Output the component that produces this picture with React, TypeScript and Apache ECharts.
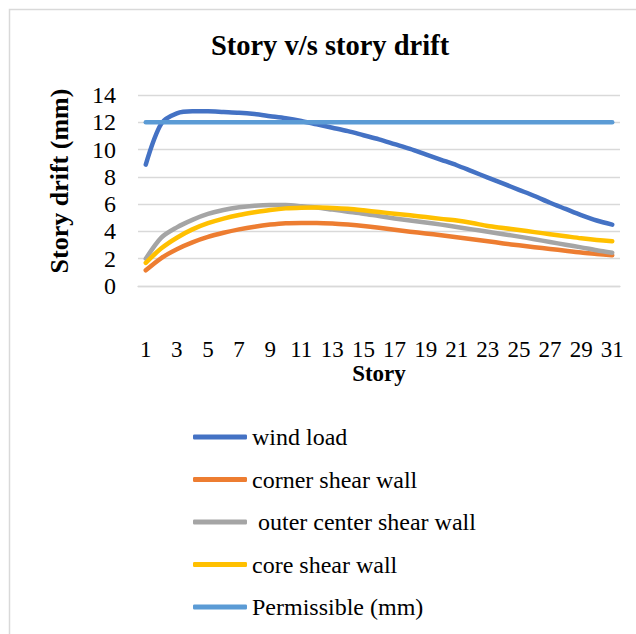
import React, { useEffect, useRef } from "react";
import * as echarts from "echarts";

// Story numbers along the x axis
const stories: string[] = Array.from({ length: 31 }, (_, i) => String(i + 1));

// Story drift (mm) per story, one list per case
const windLoad = [
  8.9, 11.9, 12.65, 12.8, 12.8, 12.75, 12.7, 12.6, 12.45, 12.3, 12.1, 11.85, 11.6, 11.35, 11.05, 10.75,
  10.4, 10.05, 9.65, 9.25, 8.85, 8.4, 7.95, 7.5, 7.05, 6.6, 6.1, 5.65, 5.2, 4.8, 4.5,
];
const cornerShearWall = [
  1.15, 2.05, 2.7, 3.2, 3.6, 3.9, 4.15, 4.35, 4.5, 4.6, 4.62, 4.62, 4.58, 4.5, 4.4, 4.27,
  4.12, 3.98, 3.85, 3.72, 3.58, 3.43, 3.28, 3.12, 2.98, 2.84, 2.72, 2.58, 2.45, 2.35, 2.25,
];
const outerCenterShearWall = [
  2.0, 3.55, 4.3, 4.85, 5.28, 5.57, 5.77, 5.89, 5.94, 5.93, 5.85, 5.75, 5.6, 5.45, 5.3, 5.12,
  4.95, 4.8, 4.65, 4.5, 4.33, 4.15, 3.98, 3.8, 3.62, 3.43, 3.22, 3.03, 2.83, 2.62, 2.44,
];
const coreShearWall = [
  1.7, 2.76, 3.54, 4.15, 4.6, 4.94, 5.2, 5.4, 5.57, 5.69, 5.74, 5.75, 5.72, 5.66, 5.55, 5.42,
  5.3, 5.18, 5.05, 4.92, 4.8, 4.62, 4.4, 4.25, 4.1, 3.95, 3.8, 3.65, 3.5, 3.38, 3.28,
];
const permissible = stories.map(() => 12);

const seriesNames = [
  "wind load",
  "corner shear wall",
  " outer center shear wall",
  "core shear wall",
  "Permissible (mm)",
];
const seriesData = [windLoad, cornerShearWall, outerCenterShearWall, coreShearWall, permissible];
const seriesColors = ["#4472C4", "#ED7D31", "#A5A5A5", "#FFC000", "#5B9BD5"];

const FONT = "Liberation Serif";

export default function App() {
  const ref = useRef<HTMLDivElement>(null);

  useEffect(() => {
    if (!ref.current) return;
    const chart = echarts.init(ref.current, undefined, { renderer: "svg" });

    chart.setOption({
      animation: false,
      backgroundColor: "#ffffff",
      textStyle: { fontFamily: FONT, color: "#000" },
      grid: { left: 138, right: 16, top: 95, bottom: 348 },
      graphic: [
        {
          type: "rect",
          silent: true,
          shape: { x: 9.5, y: 9.5, width: 700, height: 700 },
          style: { fill: "none", stroke: "#D9D9D9", lineWidth: 1.5 },
        },
        {
          type: "text",
          x: 330,
          y: 45,
          style: {
            text: "Story v/s story drift",
            font: `bold 28.5px ${FONT}`,
            fill: "#000",
            align: "center",
            verticalAlign: "middle",
          },
        },
        {
          type: "text",
          x: 59,
          y: 181,
          rotation: Math.PI / 2,
          style: {
            text: "Story drift (mm)",
            font: `bold 26px ${FONT}`,
            fill: "#000",
            align: "center",
            verticalAlign: "middle",
          },
        },
        {
          type: "text",
          x: 379,
          y: 373,
          style: {
            text: "Story",
            font: `bold 23px ${FONT}`,
            fill: "#000",
            align: "center",
            verticalAlign: "middle",
          },
        },
      ],
      legend: {
        orient: "vertical",
        left: 193,
        top: 425,
        padding: 0,
        itemWidth: 54,
        itemHeight: 5,
        itemGap: 18.5,
        icon: "roundRect",
        data: seriesNames,
        formatter: (name: string) => `{t|${name}}`,
        textStyle: {
          fontFamily: FONT,
          fontSize: 24,
          color: "#000",
          lineHeight: 23,
          rich: {
            t: { fontFamily: FONT, fontSize: 24, color: "#000", lineHeight: 23 },
          },
        },
      },
      xAxis: {
        type: "category",
        data: stories,
        boundaryGap: true,
        axisLine: { show: true, lineStyle: { color: "#D9D9D9", width: 1.3 } },
        axisTick: { show: false },
        axisLabel: {
          interval: 1,
          margin: 52,
          fontFamily: FONT,
          fontSize: 23,
          color: "#000",
        },
      },
      yAxis: {
        type: "value",
        min: 0,
        max: 14,
        interval: 2,
        axisLine: { show: false },
        axisTick: { show: false },
        axisLabel: { margin: 22, fontFamily: FONT, fontSize: 24, color: "#000" },
        splitLine: { lineStyle: { color: "#D9D9D9", width: 1.3 } },
      },
      series: seriesNames.map((name, i) => ({
        name,
        type: "line",
        data: seriesData[i],
        smooth: 0.3,
        showSymbol: false,
        symbol: "none",
        color: seriesColors[i],
        lineStyle: { width: 4.5, color: seriesColors[i], cap: "round", join: "round" },
      })),
    });

    return () => chart.dispose();
  }, []);

  return (
    <div
      ref={ref}
      style={{ position: "fixed", left: 0, top: 0, width: 636, height: 634 }}
    />
  );
}
